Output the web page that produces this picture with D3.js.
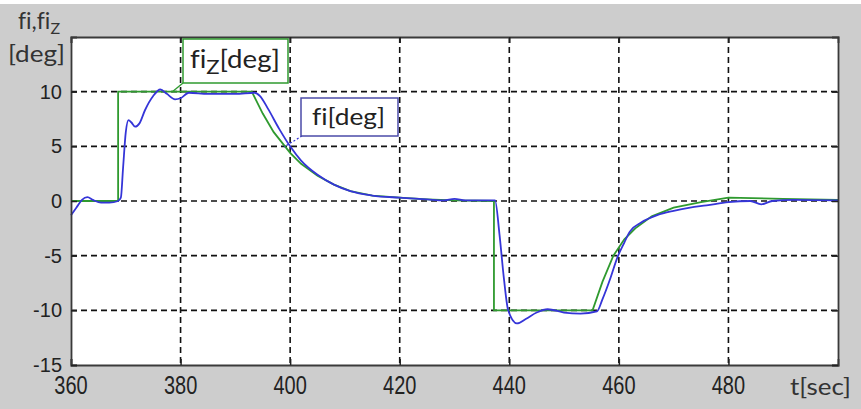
<!DOCTYPE html>
<html>
<head>
<meta charset="utf-8">
<script src="https://cdn.jsdelivr.net/npm/d3@7"></script>
<style>
  html, body { margin: 0; padding: 0; background: #ffffff; }
  svg { display: block; }
  text { font-variant-ligatures: none; font-feature-settings: "liga" 0, "clig" 0; }
</style>
</head>
<body>
<svg id="chart" width="861" height="409"></svg>
<script>
// ---- data ----
const xTicks = [360, 380, 400, 420, 440, 460, 480];
const yTicks = [10, 5, 0, -5, -10, -15];

// reference signal fi_z [deg]
const fizT = [360, 368.6, 368.6, 393, 395, 397, 400, 402, 405, 408, 411, 415, 420, 425, 430, 437.2, 437.2, 455.2, 457, 459, 461, 463, 466, 470, 475, 480, 490, 500];
const fizV = [0, 0, 10, 10, 8.0, 6.3, 4.4, 3.4, 2.3, 1.5, 0.9, 0.5, 0.3, 0.15, 0.05, 0, -10, -10, -7.4, -5.0, -3.5, -2.5, -1.4, -0.6, -0.1, 0.3, 0.2, 0.1];

// measured signal fi [deg]
const fiT = [360, 361, 362, 363, 364, 365, 366, 367, 368.6, 369.1, 369.5, 370, 370.5, 371, 371.7, 372.5, 373.5, 375, 376.3, 377.5, 379, 380, 381.5, 385, 390, 393.5, 394.5, 396, 398, 400, 402, 405, 408, 411, 415, 420, 425, 428, 430, 432, 437.4, 438.2, 439, 439.8, 441.4, 443, 445, 447, 450, 453, 456, 457, 458.5, 459.7, 461, 462, 464, 467, 470, 473, 476, 480, 484, 486, 488, 492, 500];
const fiV = [-1.3, -0.6, 0.1, 0.35, 0.1, -0.1, -0.15, -0.15, 0, 0.3, 3.0, 6.3, 7.4, 7.2, 6.8, 7.1, 8.3, 9.6, 10.2, 9.8, 9.3, 9.4, 9.9, 9.8, 9.8, 9.9, 9.6, 8.4, 6.6, 5.0, 3.7, 2.4, 1.5, 0.9, 0.5, 0.3, 0.15, 0.05, 0.2, 0.05, 0.05, -3, -7, -10, -11.2, -10.8, -10.2, -9.9, -10.2, -10.3, -10.1, -9.0, -7.0, -5.2, -3.8, -2.8, -2.0, -1.3, -0.9, -0.6, -0.4, -0.1, 0, -0.3, 0, 0.1, 0.05];

// ---- layout ----
const svg = d3.select("#chart");
const W = 861, H = 409;
const L = 71, R = 838, T = 37, B = 365;

svg.append("rect").attr("x", 0).attr("y", 4).attr("width", W).attr("height", H - 4).attr("fill", "#cdcdcd");

const x = d3.scaleLinear().domain([360, 500]).range([L, R]);
const y = d3.scaleLinear().domain([-15, 15]).range([B, T]);

svg.append("rect").attr("x", L).attr("y", T).attr("width", R - L).attr("height", B - T).attr("fill", "#ffffff");

// grid
const grid = svg.append("g");
grid.selectAll("line.gx").data(xTicks.filter(d => d > 360)).join("line")
  .attr("x1", d => x(d)).attr("x2", d => x(d)).attr("y1", T).attr("y2", B)
  .attr("stroke", "#111").attr("stroke-width", 1.6).attr("stroke-dasharray", "6,4");
grid.selectAll("line.gy").data(yTicks.filter(d => d > -15)).join("line")
  .attr("x1", L).attr("x2", R).attr("y1", d => y(d)).attr("y2", d => y(d))
  .attr("stroke", "#111").attr("stroke-width", 1.6).attr("stroke-dasharray", "6,4");

// lines
const line = d3.line().x(d => x(d[0])).y(d => y(d[1]));
const fizData = fizT.map((t, i) => [t, fizV[i]]);
const fiData = fiT.map((t, i) => [t, fiV[i]]);
const lineGen = d3.line().x(d => x(d[0])).y(d => y(d[1])).curve(d3.curveMonotoneX);

svg.append("path").datum(fizData).attr("d", line)
  .attr("fill", "none").attr("stroke", "#2f9a2f").attr("stroke-width", 1.8);
svg.append("path").datum(fiData).attr("d", lineGen)
  .attr("fill", "none").attr("stroke", "#3535d8").attr("stroke-width", 1.8);

// axes (ticks inward)
const axB = d3.axisBottom(x).tickValues(xTicks).tickSize(-6).tickFormat("");
const axT = d3.axisTop(x).tickValues(xTicks).tickSize(-6).tickFormat("");
const axL = d3.axisLeft(y).tickValues(yTicks).tickSize(-6).tickFormat("");
const axR = d3.axisRight(y).tickValues(yTicks).tickSize(-6).tickFormat("");
[[axB, `translate(0,${B})`], [axT, `translate(0,${T})`], [axL, `translate(${L},0)`], [axR, `translate(${R},0)`]].forEach(([a, tr]) => {
  const g = svg.append("g").attr("transform", tr).call(a);
  g.select(".domain").attr("stroke", "#3a3a3a").attr("stroke-width", 1.8);
  g.selectAll(".tick line").attr("stroke", "#222").attr("stroke-width", 1.5);
});

// tick labels
const font = "'Liberation Sans', Arial, sans-serif";
svg.append("g").selectAll("text").data(yTicks).join("text")
  .attr("x", 62).attr("y", d => y(d) + 7)
  .attr("text-anchor", "end").attr("font-family", font).attr("font-size", 20)
  .attr("fill", "#222").text(d => d);
svg.append("g").selectAll("text").data(xTicks).join("text")
  .attr("transform", d => `translate(${x(d)},394) scale(1,1.3)`)
  .attr("text-anchor", "middle").attr("font-family", font).attr("font-size", 20)
  .attr("fill", "#222").text(d => d);

const lfont = "Lato, 'Open Sans', sans-serif";
// axis titles
const yt = svg.append("text").attr("x", 18).attr("y", 29).attr("font-family", lfont).attr("font-size", 23).attr("fill", "#333");
yt.append("tspan").text("fi,fi");
yt.append("tspan").attr("dy", 5).attr("font-size", 16).text("Z");
svg.append("text").attr("x", 8).attr("y", 62).attr("font-family", lfont).attr("font-size", 24).attr("fill", "#333")
  .attr("textLength", 57).attr("lengthAdjust", "spacingAndGlyphs").text("[deg]");
svg.append("text").attr("x", 790).attr("y", 395).attr("font-family", lfont).attr("font-size", 24).attr("fill", "#333")
  .attr("textLength", 61).attr("lengthAdjust", "spacingAndGlyphs").text("t[sec]");

// legend box fi_z
svg.append("line").attr("x1", 183).attr("y1", 83).attr("x2", 172).attr("y2", 92).attr("stroke", "#2f9a2f").attr("stroke-width", 1.3);
svg.append("rect").attr("x", 183).attr("y", 39).attr("width", 105).attr("height", 44)
  .attr("fill", "#ffffff").attr("stroke", "#2f9a2f").attr("stroke-width", 1.5);
const lz = svg.append("text").attr("x", 190).attr("y", 68).attr("font-family", lfont).attr("font-size", 25).attr("fill", "#222")
  .attr("textLength", 90).attr("lengthAdjust", "spacingAndGlyphs");
lz.append("tspan").text("fi");
lz.append("tspan").attr("dy", 6).attr("font-size", 20).text("Z");
lz.append("tspan").attr("dy", -6).text("[deg]");

// legend box fi
svg.append("line").attr("x1", 302).attr("y1", 136).attr("x2", 284).attr("y2", 147).attr("stroke", "#3535d8").attr("stroke-width", 1.2).attr("stroke-dasharray", "2,2");
svg.append("rect").attr("x", 301).attr("y", 98).attr("width", 97).attr("height", 38)
  .attr("fill", "#ffffff").attr("stroke", "#4b4ba8").attr("stroke-width", 1.5);
svg.append("text").attr("x", 312).attr("y", 125).attr("font-family", lfont).attr("font-size", 24).attr("fill", "#222")
  .attr("textLength", 73).attr("lengthAdjust", "spacingAndGlyphs").text("fi[deg]");
</script>
</body>
</html>
